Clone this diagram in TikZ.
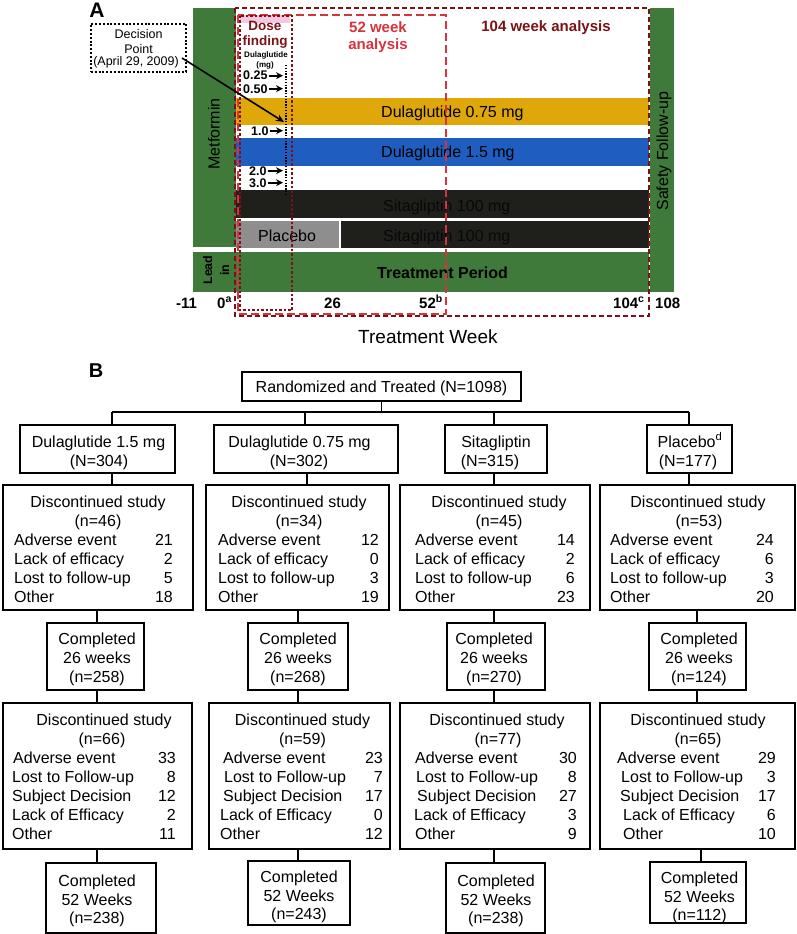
\documentclass[tikz,border=0pt]{standalone}
\usepackage{fontspec}
\setmainfont{Liberation Sans}
\usetikzlibrary{fit,arrows.meta,calc}
\definecolor{grn}{HTML}{3F7A3A}
\definecolor{gold}{HTML}{DFA70A}
\definecolor{blu}{HTML}{1F5EBE}
\definecolor{blk}{HTML}{1F1F1B}
\definecolor{gry}{HTML}{8E8E8E}
\definecolor{dred}{HTML}{7A1218}
\definecolor{rred}{HTML}{D8323C}
\definecolor{pnk}{HTML}{F4C8E0}
\definecolor{sitatxt}{HTML}{080808}
\newcommand\ct[4]{\node[t,anchor=base] (#1) at (#2,#3) {#4};}
\newcommand\rowe[6]{\node[t,anchor=base west] (#1l) at (#2,#4) {#5};\node[t,anchor=base east] (#1n) at (#3,#4) {#6};}
\begin{document}
\begin{tikzpicture}[x=1pt,y=-1pt,
  bx/.style={draw,line width=1.3pt,inner sep=0pt,outer sep=0pt},
  t/.style={inner sep=0pt,font=\fontsize{16}{19}\selectfont},
  cn/.style={line width=1.3pt},
  ax/.style={inner sep=0pt,anchor=base west,font=\fontsize{15}{18}\selectfont\bfseries},
  dose/.style={inner sep=0pt,anchor=base west,font=\fontsize{12.5}{14}\selectfont\bfseries},
  dosearr/.style={line width=1.8pt,-{Stealth[length=7pt,width=7pt]}},
  dp/.style={inner sep=0pt,anchor=base,font=\fontsize{12.5}{13.5}\selectfont}]
\useasboundingbox (0,0) rectangle (797,934);
% ---------------- Panel A ----------------
\node[inner sep=0pt,font=\fontsize{21}{24}\selectfont\bfseries] (labA) at (97,10) {A};
\fill[grn] (193,8) rectangle (236,247);
\fill[grn] (193,252) rectangle (649,292);
\fill[grn] (650,8) rectangle (674,292);
\fill[pnk] (240,15) rectangle (290,23);
\fill[gold] (236,98) rectangle (649,125);
\fill[blu] (236,138) rectangle (649,166);
\fill[blk] (236,190) rectangle (649,218);
\fill[gry] (236,221) rectangle (339,248);
\fill[blk] (340.5,221) rectangle (649,248);
\node[t,anchor=base west] (bar1) at (381,117) {Dulaglutide 0.75 mg};
\node[t,anchor=base west] (bar2) at (381,157) {Dulaglutide 1.5 mg};
\node[t,anchor=base west,text=sitatxt] (bar3) at (383,211) {Sitagliptin 100 mg};
\node[t,anchor=base west,text=sitatxt] (bar4) at (383,241) {Sitagliptin 100 mg};
\node[t,anchor=base west] (bar5) at (258,241) {Placebo};
\node[t,anchor=base west,font=\fontsize{16}{19}\selectfont\bfseries] (tp) at (377,278) {Treatment Period};
\node[t,rotate=90] (metf) at (214,134) {Metformin};
\node[inner sep=0pt,rotate=90,align=center,font=\fontsize{12.5}{17}\selectfont\bfseries] (lead) at (216,270) {Lead\\in};
\node[t,rotate=90] (safe) at (664,151) {Safety Follow-up};
% analysis boxes
\draw[dred,line width=2pt,dash pattern=on 5pt off 3pt] (235,8) rectangle (649,316);
\draw[rred,line width=2.5pt,dash pattern=on 8pt off 4pt] (238,15) rectangle (446,314);
\draw[dred,line width=2.5pt,dash pattern=on 2.5pt off 2pt] (240,16) rectangle (292,310);
\node[inner sep=0pt,anchor=base,text=dred,font=\fontsize{13.5}{16}\selectfont\bfseries] (df1) at (265,31) {Dose};
\node[inner sep=0pt,anchor=base,text=dred,font=\fontsize{13.5}{16}\selectfont\bfseries] (df2) at (265,46) {finding};
\node[inner sep=0pt,anchor=base,text=rred,font=\fontsize{15}{18}\selectfont\bfseries] (w52a) at (378,33) {52 week};
\node[inner sep=0pt,anchor=base,text=rred,font=\fontsize{15}{18}\selectfont\bfseries] (w52b) at (378,50) {analysis};
\node[inner sep=0pt,anchor=base,text=dred,font=\fontsize{15}{18}\selectfont\bfseries] (w104) at (546,32) {104 week analysis};
\node[inner sep=0pt,anchor=base,font=\fontsize{8}{9}\selectfont\bfseries] (dulg) at (266,58) {Dulaglutide};
\node[inner sep=0pt,anchor=base,font=\fontsize{8}{9}\selectfont\bfseries] (mg) at (265,67) {(mg)};
\draw[line width=1.3pt,dash pattern=on 1.3pt off 1.5pt] (286,65) -- (286,195);
\coordinate (dend) at (283,0);
\node[dose] (d1) at (243,80) {0.25};
\node[dose] (d2) at (243,93) {0.50};
\node[dose] (d3) at (251,135) {1.0};
\node[dose] (d4) at (249,175) {2.0};
\node[dose] (d5) at (249,187) {3.0};
\foreach \d in {d1,d2,d3,d4,d5}{\draw[dosearr] ([xshift=1pt]\d.east) -- (\d.east -| dend);}
% decision point
\node[draw,line width=2pt,dash pattern=on 2pt off 1.8pt,inner sep=0pt,fit={(91,24) (186,72)}] (dpbox) {};
\node[dp] (dpt1) at (138.5,39) {Decision};
\node[dp] (dpt2) at (138.5,53) {Point};
\node[dp] (dpt3) at (136,66) {(April 29, 2009)};
\coordinate (dpstart) at (182,58);
\coordinate (dparr) at (284,122);
\draw[line width=1.6pt,-{Stealth[length=8pt,width=7pt]}] (dpstart) -- (dparr);
% axis
\node[ax] (x1) at (176,308) {-11};
\node[ax] (x2) at (217,308) {0\textsuperscript{a}};
\node[ax] (x3) at (324,308) {26};
\node[ax] (x4) at (419,308) {52\textsuperscript{b}};
\node[ax] (x5) at (613,308) {104\textsuperscript{c}};
\node[ax] (x6) at (655,308) {108};
\node[inner sep=0pt,anchor=base west,font=\fontsize{19}{22}\selectfont] (tw) at (358,343) {Treatment Week};
% ---------------- Panel B ----------------
\node[inner sep=0pt,font=\fontsize{20}{24}\selectfont\bfseries] (labB) at (96,371) {B};
\node[bx,fit={(242,372) (521,401)}] (top) {};
\ct{topt}{381.5}{392}{Randomized and Treated (N=1098)}
\coordinate (h1) at (112,412);
\coordinate (h2) at (305,412);
\coordinate (h3) at (494,412);
\coordinate (h4) at (689,412);
\coordinate (hm) at (381.5,412);
\coordinate (k2) at (307,0);
\coordinate (m1) at (97,0);
\coordinate (m2) at (298,0);
\coordinate (m4) at (697,0);
\coordinate (n4) at (701,0);
% boxes
\node[bx,fit={(20,425) (175,473)}] (a1) {};
\node[bx,fit={(214,425) (398,473)}] (a2) {};
\node[bx,fit={(445,425) (547,473)}] (a3) {};
\node[bx,fit={(647,425) (732,473)}] (a4) {};
\node[bx,fit={(3,485) (193,610)}] (b1) {};
\node[bx,fit={(206,485) (389,610)}] (b2) {};
\node[bx,fit={(400,485) (590,610)}] (b3) {};
\node[bx,fit={(600,485) (795,610)}] (b4) {};
\node[bx,fit={(47,623) (144,690)}] (c1) {};
\node[bx,fit={(248,623) (348,690)}] (c2) {};
\node[bx,fit={(447,623) (545,690)}] (c3) {};
\node[bx,fit={(649,623) (746,690)}] (c4) {};
\node[bx,fit={(3,703) (192,849)}] (e1) {};
\node[bx,fit={(209,703) (390,849)}] (e2) {};
\node[bx,fit={(400,703) (590,849)}] (e3) {};
\node[bx,fit={(600,703) (795,849)}] (e4) {};
\node[bx,fit={(46,863) (156,933)}] (f1) {};
\node[bx,fit={(248,861) (350,925)}] (f2) {};
\node[bx,fit={(446,863) (545,933)}] (f3) {};
\node[bx,fit={(650,862) (746,923)}] (f4) {};
% connectors
\draw[cn] (top.south) -- (hm);
\draw[cn] (h1) -- (h4);
\draw[cn] (h1) -- (h1 |- a1.north);
\draw[cn] (h2) -- (h2 |- a2.north);
\draw[cn] (h3) -- (h3 |- a3.north);
\draw[cn] (h4) -- (h4 |- a4.north);
\draw[cn] (a1.south -| h1) -- (b1.north -| h1);
\draw[cn] (a2.south -| k2) -- (b2.north -| k2);
\draw[cn] (a3.south -| h3) -- (b3.north -| h3);
\draw[cn] (a4.south -| h4) -- (b4.north -| h4);
\draw[cn] (b1.south -| m1) -- (c1.north -| m1);
\draw[cn] (b2.south -| m2) -- (c2.north -| m2);
\draw[cn] (b3.south -| h3) -- (c3.north -| h3);
\draw[cn] (b4.south -| m4) -- (c4.north -| m4);
\draw[cn] (c1.south -| m1) -- (e1.north -| m1);
\draw[cn] (c2.south -| m2) -- (e2.north -| m2);
\draw[cn] (c3.south -| h3) -- (e3.north -| h3);
\draw[cn] (c4.south -| m4) -- (e4.north -| m4);
\draw[cn] (e1.south -| m1) -- (f1.north -| m1);
\draw[cn] (e2.south -| m2) -- (f2.north -| m2);
\draw[cn] (e3.south -| h3) -- (f3.north -| h3);
\draw[cn] (e4.south -| n4) -- (f4.north -| n4);
% title texts
\ct{a1a}{98.5}{447}{Dulaglutide 1.5 mg}\ct{a1b}{99}{466}{(N=304)}
\ct{a2a}{299.5}{447}{Dulaglutide 0.75 mg}\ct{a2b}{299}{466}{(N=302)}
\ct{a3a}{496}{447}{Sitagliptin}\ct{a3b}{490}{466}{(N=315)}
\ct{a4a}{690}{447}{Placebo\textsuperscript{d}}\ct{a4b}{688}{466}{(N=177)}
% discontinued 1
\ct{b1a}{98}{507}{Discontinued study}\ct{b1b}{98}{526}{(n=46)}
\rowe{b1r1}{14}{173}{545}{Adverse event}{21}
\rowe{b1r2}{14}{173}{564}{Lack of efficacy}{2}
\rowe{b1r3}{14}{173}{583}{Lost to follow-up}{5}
\rowe{b1r4}{14}{173}{602}{Other}{18}
\ct{b2a}{299}{507}{Discontinued study}\ct{b2b}{299}{526}{(n=34)}
\rowe{b2r1}{218}{379}{545}{Adverse event}{12}
\rowe{b2r2}{218}{379}{564}{Lack of efficacy}{0}
\rowe{b2r3}{218}{379}{583}{Lost to follow-up}{3}
\rowe{b2r4}{218}{379}{602}{Other}{19}
\ct{b3a}{499}{507}{Discontinued study}\ct{b3b}{499}{526}{(n=45)}
\rowe{b3r1}{415}{575}{545}{Adverse event}{14}
\rowe{b3r2}{415}{575}{564}{Lack of efficacy}{2}
\rowe{b3r3}{415}{575}{583}{Lost to follow-up}{6}
\rowe{b3r4}{415}{575}{602}{Other}{23}
\ct{b4a}{698}{507}{Discontinued study}\ct{b4b}{699}{526}{(n=53)}
\rowe{b4r1}{610}{774}{545}{Adverse event}{24}
\rowe{b4r2}{610}{774}{564}{Lack of efficacy}{6}
\rowe{b4r3}{610}{774}{583}{Lost to follow-up}{3}
\rowe{b4r4}{610}{774}{602}{Other}{20}
% completed 26
\ct{c1a}{97}{644}{Completed}\ct{c1b}{97}{663}{26 weeks}\ct{c1c}{97}{682}{(n=258)}
\ct{c2a}{298}{644}{Completed}\ct{c2b}{298}{663}{26 weeks}\ct{c2c}{298}{682}{(n=268)}
\ct{c3a}{494}{644}{Completed}\ct{c3b}{494}{663}{26 weeks}\ct{c3c}{494}{682}{(n=270)}
\ct{c4a}{699}{644}{Completed}\ct{c4b}{699}{663}{26 weeks}\ct{c4c}{699}{682}{(n=124)}
% discontinued 2
\ct{e1a}{104}{725}{Discontinued study}\ct{e1b}{102}{744}{(n=66)}
\rowe{e1r1}{13}{176}{763}{Adverse event}{33}
\rowe{e1r2}{12}{176}{782}{Lost to Follow-up}{8}
\rowe{e1r3}{12}{176}{801}{Subject Decision}{12}
\rowe{e1r4}{12}{176}{820}{Lack of Efficacy}{2}
\rowe{e1r5}{12}{176}{839}{Other}{11}
\ct{e2a}{302.5}{725}{Discontinued study}\ct{e2b}{302.5}{744}{(n=59)}
\rowe{e2r1}{223}{383}{763}{Adverse event}{23}
\rowe{e2r2}{224}{383}{782}{Lost to Follow-up}{7}
\rowe{e2r3}{223}{383}{801}{Subject Decision}{17}
\rowe{e2r4}{220}{383}{820}{Lack of Efficacy}{0}
\rowe{e2r5}{220}{383}{839}{Other}{12}
\ct{e3a}{497}{725}{Discontinued study}\ct{e3b}{498}{744}{(n=77)}
\rowe{e3r1}{415}{577}{763}{Adverse event}{30}
\rowe{e3r2}{416}{577}{782}{Lost to Follow-up}{8}
\rowe{e3r3}{417}{577}{801}{Subject Decision}{27}
\rowe{e3r4}{414}{577}{820}{Lack of Efficacy}{3}
\rowe{e3r5}{415}{577}{839}{Other}{9}
\ct{e4a}{698}{725}{Discontinued study}\ct{e4b}{698}{744}{(n=65)}
\rowe{e4r1}{617}{776}{763}{Adverse event}{29}
\rowe{e4r2}{621}{776}{782}{Lost to Follow-up}{3}
\rowe{e4r3}{620}{776}{801}{Subject Decision}{17}
\rowe{e4r4}{623}{776}{820}{Lack of Efficacy}{6}
\rowe{e4r5}{623}{776}{839}{Other}{10}
% completed 52
\ct{f1a}{97}{886}{Completed}\ct{f1b}{97}{905}{52 Weeks}\ct{f1c}{97}{923}{(n=238)}
\ct{f2a}{299}{882}{Completed}\ct{f2b}{299}{901}{52 Weeks}\ct{f2c}{299}{919}{(n=243)}
\ct{f3a}{496}{886}{Completed}\ct{f3b}{496}{905}{52 Weeks}\ct{f3c}{496}{923}{(n=238)}
\ct{f4a}{699.5}{883}{Completed}\ct{f4b}{699.5}{902}{52 Weeks}\ct{f4c}{699.5}{920}{(n=112)}
\end{tikzpicture}
\end{document}
